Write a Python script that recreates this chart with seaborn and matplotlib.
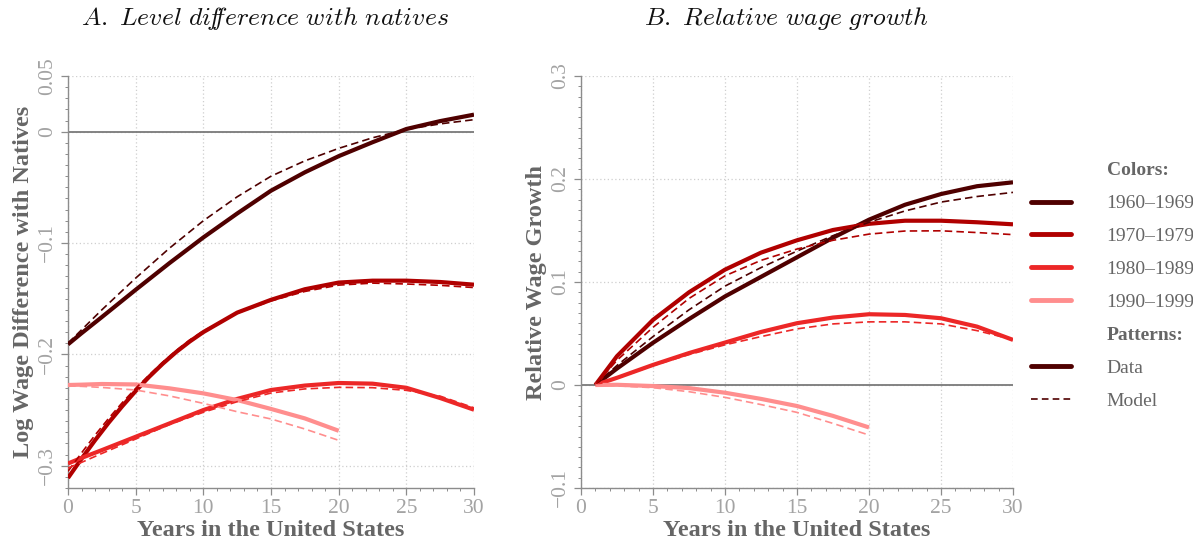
import numpy as np
import pandas as pd
import matplotlib
matplotlib.use("Agg")
import matplotlib.pyplot as plt
from matplotlib.lines import Line2D
from matplotlib.ticker import MultipleLocator
import seaborn as sns

# Panel A: log wage difference with natives, by years in the US
years_a = [0, 1, 2.5, 5, 7.5, 10, 12.5, 15, 17.5, 20, 22.5, 25, 27.5, 30]
years_a_70s = [0, 1, 2, 3, 4, 5, 6, 7, 8, 9, 10, 12.5, 15, 17.5, 20, 22.5, 25, 27.5, 30]
years_a_90s = [0, 1, 2.5, 5, 7.5, 10, 12.5, 15, 17.5, 20]

level_data_1960 = [-0.191, -0.181, -0.1665, -0.142, -0.118, -0.095, -0.0735, -0.053,
                   -0.0365, -0.022, -0.0095, 0.0024, 0.0095, 0.0153]
level_model_1960 = [-0.190, -0.178, -0.160, -0.1315, -0.1046, -0.080, -0.0585, -0.040,
                    -0.0262, -0.015, -0.0055, 0.002, 0.007, 0.0108]
level_data_1970 = [-0.311, -0.2937, -0.2771, -0.2614, -0.2467, -0.2329, -0.2201, -0.2084,
                   -0.1978, -0.1884, -0.180, -0.1625, -0.151, -0.1415, -0.1355,
                   -0.1338, -0.1338, -0.135, -0.1374]
level_model_1970 = [-0.305, -0.2885, -0.2725, -0.2575, -0.2435, -0.2305, -0.2185, -0.207,
                    -0.1965, -0.187, -0.179, -0.163, -0.152, -0.1435, -0.1378,
                    -0.136, -0.1368, -0.138, -0.140]
level_data_1980 = [-0.298, -0.293, -0.286, -0.274, -0.262, -0.250, -0.240, -0.232,
                   -0.228, -0.2257, -0.2263, -0.230, -0.2392, -0.2497]
level_model_1980 = [-0.302, -0.297, -0.289, -0.276, -0.263, -0.252, -0.2425, -0.2347,
                    -0.231, -0.2296, -0.2299, -0.2323, -0.2375, -0.248]
level_data_1990 = [-0.2275, -0.2272, -0.2266, -0.227, -0.2305, -0.235, -0.241, -0.249,
                   -0.2575, -0.2686]
level_model_1990 = [-0.2284, -0.2287, -0.2297, -0.232, -0.2373, -0.244, -0.2515, -0.258,
                    -0.267, -0.2772]

# Panel B: relative wage growth since first year
years_b = [1, 2.5, 5, 7.5, 10, 12.5, 15, 17.5, 20, 22.5, 25, 27.5, 30]
years_b_90s = [1, 2.5, 5, 7.5, 10, 12.5, 15, 17.5, 20]

growth_data_1960 = [0, 0.016, 0.041, 0.064, 0.086, 0.105, 0.124, 0.143, 0.1605,
                    0.175, 0.1854, 0.193, 0.1968]
growth_model_1960 = [0, 0.019, 0.047, 0.073, 0.096, 0.114, 0.130, 0.145, 0.158,
                     0.169, 0.1776, 0.183, 0.187]
growth_data_1970 = [0, 0.028, 0.0632, 0.090, 0.112, 0.1285, 0.1405, 0.1505, 0.1565,
                    0.1595, 0.1595, 0.158, 0.156]
growth_model_1970 = [0, 0.024, 0.056, 0.084, 0.106, 0.121, 0.132, 0.1405, 0.1465,
                     0.1495, 0.1497, 0.148, 0.146]
growth_data_1980 = [0, 0.007, 0.0195, 0.031, 0.0412, 0.0515, 0.060, 0.0655, 0.0687,
                    0.068, 0.0648, 0.0567, 0.0438]
growth_model_1980 = [0, 0.0065, 0.0188, 0.0295, 0.039, 0.047, 0.0545, 0.0593, 0.0613,
                     0.0613, 0.0593, 0.0528, 0.044]
growth_data_1990 = [0, 0.0002, -0.001, -0.003, -0.0075, -0.0135, -0.0204, -0.030, -0.0412]
growth_model_1990 = [0, -0.0008, -0.0026, -0.0065, -0.012, -0.019, -0.0266, -0.0373, -0.0486]

cohorts = ["1960–1969", "1970–1979", "1980–1989", "1990–1999"]
colors = ["#4f0000", "#b00000", "#ec2727", "#ff8e8e"]

level_ticks = [-0.3, -0.2, -0.1, 0, 0.05]
level_ticklabels = ["−0.3", "−0.2", "−0.1", "0", "0.05"]
growth_ticks = [-0.1, 0, 0.1, 0.2, 0.3]
growth_ticklabels = ["−0.1", "0", "0.1", "0.2", "0.3"]

sns.set_theme(style="white")
plt.rcParams["font.family"] = ["Liberation Serif", "DejaVu Serif"]
plt.rcParams["mathtext.fontset"] = "cm"

LABEL_GREY = "#666666"
TICK_GREY = "#a3a3a3"
SPINE_GREY = "#8c8c8c"
DASH = (0, (4.5, 2.5))

fig = plt.figure(figsize=(11.93, 5.43), dpi=100)
ax_a = fig.add_axes([68 / 1193, 1 - 488 / 543, 406 / 1193, 412 / 543])
ax_b = fig.add_axes([581 / 1193, 1 - 488 / 543, 432 / 1193, 412 / 543])


def style_axis(ax, ylim, ticks, ticklabels, ylabel):
    ax.set_xlim(0, 30)
    ax.set_ylim(*ylim)
    ax.set_xticks([0, 5, 10, 15, 20, 25, 30])
    ax.xaxis.set_minor_locator(MultipleLocator(1))
    ax.set_yticks(ticks)
    ax.set_yticklabels(ticklabels, rotation=90, va="center")
    ax.yaxis.set_minor_locator(MultipleLocator(0.01))
    ax.grid(True, which="major", color="#cfcfcf", linestyle=(0, (1, 2)), linewidth=0.9)
    ax.set_axisbelow(True)
    for side in ["top", "right"]:
        ax.spines[side].set_visible(False)
    for side in ["left", "bottom"]:
        ax.spines[side].set_color(SPINE_GREY)
        ax.spines[side].set_linewidth(1.0)
    ax.tick_params(which="major", direction="out", length=5, width=0.9,
                   color=SPINE_GREY, labelsize=15.5, labelcolor=TICK_GREY, pad=3,
                   left=True, bottom=True)
    ax.tick_params(which="minor", direction="out", length=2.5, width=0.7,
                   color=SPINE_GREY, left=True, bottom=True)
    ax.axhline(0, color="#7a7a7a", linewidth=1.3, zorder=1)
    ax.set_xlabel("Years in the United States", fontsize=17.5, fontweight="bold",
                  color=LABEL_GREY, labelpad=1)
    ax.set_ylabel(ylabel, fontsize=17.5, fontweight="bold", color=LABEL_GREY, labelpad=3)


def draw_series(ax, xs, data, model, color):
    sns.lineplot(x=xs, y=data, ax=ax, color=color, linewidth=3.0, zorder=3,
                 solid_joinstyle="round", solid_capstyle="butt")
    sns.lineplot(x=xs, y=model, ax=ax, color=color, linewidth=1.2, linestyle=DASH,
                 zorder=4, dash_joinstyle="round")


# Panel A
draw_series(ax_a, years_a, level_data_1960, level_model_1960, colors[0])
draw_series(ax_a, years_a_70s, level_data_1970, level_model_1970, colors[1])
draw_series(ax_a, years_a, level_data_1980, level_model_1980, colors[2])
draw_series(ax_a, years_a_90s, level_data_1990, level_model_1990, colors[3])
style_axis(ax_a, (-0.32, 0.05), level_ticks, level_ticklabels,
           "Log Wage Difference with Natives")

# Panel B
draw_series(ax_b, years_b, growth_data_1960, growth_model_1960, colors[0])
draw_series(ax_b, years_b, growth_data_1970, growth_model_1970, colors[1])
draw_series(ax_b, years_b, growth_data_1980, growth_model_1980, colors[2])
draw_series(ax_b, years_b_90s, growth_data_1990, growth_model_1990, colors[3])
style_axis(ax_b, (-0.1, 0.3), growth_ticks, growth_ticklabels, "Relative Wage Growth")

fig.text(265 / 1193, 1 - 19 / 543,
         r"$\mathit{A.\ Level\ di\!f\!\!ference\ with\ natives}$",
         ha="center", va="center", fontsize=18.5, color="#111111")
fig.text(786 / 1193, 1 - 19 / 543, r"$\mathit{B.\ Relative\ wage\ growth}$",
         ha="center", va="center", fontsize=18.5, color="#111111")

# Legend: colour key for cohorts, pattern key for data vs model
blank = Line2D([], [], color="none")
handles = [blank]
labels = ["Colors:"]
for c, lab in zip(colors, cohorts):
    handles.append(Line2D([], [], color=c, linewidth=3.5))
    labels.append(lab)
handles += [blank, Line2D([], [], color=colors[0], linewidth=3.5),
            Line2D([], [], color=colors[0], linewidth=1.2, linestyle=(0, (4, 2.5)))]
labels += ["Patterns:", "Data", "Model"]

leg = fig.legend(handles, labels, loc="upper left",
                 bbox_to_anchor=(1021 / 1193, 1 - 152 / 543), frameon=False,
                 fontsize=14, handlelength=2.05, handletextpad=1.85,
                 labelspacing=0.79, borderpad=0)
for t in leg.get_texts():
    t.set_color(LABEL_GREY)
    if t.get_text().endswith(":"):
        t.set_fontweight("bold")

fig.savefig("out.png", dpi=100)
